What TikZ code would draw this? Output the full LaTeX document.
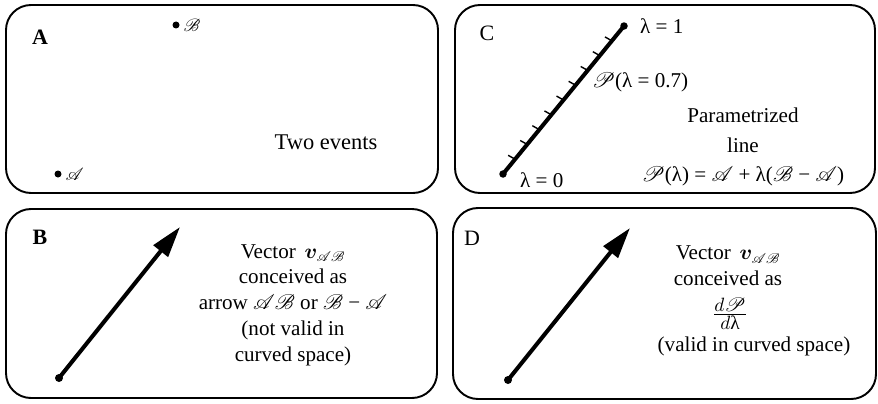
\documentclass[tikz,border=0pt]{standalone}
\usepackage{amsmath,bm,mathrsfs}
\usepackage{fontspec}
\setmainfont{Liberation Serif}
\usetikzlibrary{arrows.meta,calc}
\begin{document}
\begin{tikzpicture}[
  x=0.02cm, y=0.02cm,
  panel/.style={draw, line width=1.1pt, rounded corners=0.5cm},
  event/.style={circle, fill, inner sep=0pt, minimum size=0.14cm},
  tag/.style={font=\fontsize{12.5}{14}\selectfont},
  txt/.style={align=center, font=\fontsize{12}{14.7}\selectfont},
  vec/.style={line width=2.3pt, -{Triangle[length=0.62cm, width=0.36cm]}},
  pline/.style={line width=2.3pt}
]
  \useasboundingbox (0,0) rectangle (878,403);

  % A: two events
  \draw[panel] (6,210) rectangle (438,398);
  \node[tag] (tagA) at (40,366) {\textbf{A}};
  \node[event] (evA) at (58,229) {};
  \node[event] (evB) at (176,378) {};
  \node[anchor=west, inner sep=2pt] (labA) at (evA.east) {$\mathscr{A}$};
  \node[anchor=west, inner sep=2pt] (labB) at (evB.east) {$\mathscr{B}$};
  \node[txt, font=\fontsize{12.8}{15}\selectfont] (twoev) at (326,261) {Two events};

  % C: parametrized line
  \draw[panel] (455,210) rectangle (875,398);
  \node[tag] (tagC) at (487,370) {C};
  \coordinate (c0) at (503,229);
  \coordinate (c1) at (624,377);
  \draw[pline] (c0) -- (c1);
  \fill (c0) circle[radius=0.075cm];
  \fill (c1) circle[radius=0.075cm];
  \foreach \i in {1,...,9} {
    \coordinate (t\i) at ($(c0)!\i/10!(c1)$);
    \draw[line width=0.8pt] (t\i) -- ($(t\i)!0.16cm!100:(c1)$);
  }
  \node[txt, anchor=west] (lam1) at (634,377) {λ = 1};
  \node[txt, anchor=west] (lam0) at (514,223) {λ = 0};
  \node[txt, anchor=west, inner sep=1pt] (pt07) at (590,321) {$\mathscr{P}$(λ = 0.7)};
  \node[txt] (parline) at (743,256) {Parametrized\\[2.2pt] line\\[2.2pt]
    $\mathscr{P}$(λ) = $\mathscr{A}$ + λ($\mathscr{B}$ − $\mathscr{A}$)};

  % B: vector as arrow
  \draw[panel] (6,5) rectangle (437,194);
  \node[tag] (tagB) at (40,166) {\textbf{B}};
  \coordinate (bTail) at (59,25);
  \coordinate (bTip) at (180,176);
  \draw[vec] (bTail) -- (bTip);
  \fill (bTail) circle[radius=0.08cm];
  \node[txt] (arrowtxt) at (293,98) {Vector\, $\bm{v}_{\mathscr{AB}}$\\
    conceived as\\
    arrow $\mathscr{AB}$ or $\mathscr{B}$ − $\mathscr{A}$\\
    (not valid in\\
    curved space)};

  % D: vector as derivative
  \draw[panel] (453,4) rectangle (876,195);
  \node[tag] (tagD) at (472,165) {D};
  \coordinate (dTail) at (508,23);
  \coordinate (dTip) at (630,175);
  \draw[vec] (dTail) -- (dTip);
  \fill (dTail) circle[radius=0.08cm];
  \node[txt] (derivtxt) at (728,137) {Vector\, $\bm{v}_{\mathscr{AB}}$\\
    conceived as};
  \node[txt, inner sep=1pt, font=\fontsize{11}{13}\selectfont] (dfrac) at (730,89)
    {$\frac{\textstyle d\mathscr{P}}{\textstyle d\text{λ}}$};
  \node[txt] (validtxt) at (754,57) {(valid in curved space)};
\end{tikzpicture}
\end{document}
